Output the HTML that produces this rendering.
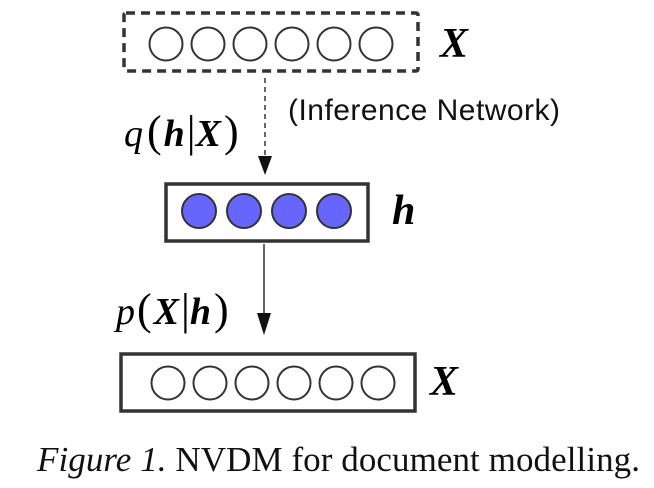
<!DOCTYPE html>
<html><head><style>body{margin:0;background:#fff}</style></head><body>
<svg width="654" height="483" xmlns="http://www.w3.org/2000/svg">
<rect x="124" y="13" width="294" height="58" fill="none" stroke="#333" stroke-width="3.5" stroke-dasharray="9,6" rx="2"/>
<g fill="none" stroke="#333" stroke-width="2">
<circle cx="166" cy="44" r="16.5"/><circle cx="208" cy="44" r="16.5"/><circle cx="250" cy="44" r="16.5"/><circle cx="292" cy="44" r="16.5"/><circle cx="334" cy="44" r="16.5"/><circle cx="376" cy="44" r="16.5"/>
</g>
<text x="440" y="57" font-family="Liberation Serif,serif" font-style="italic" font-weight="bold" font-size="42">X</text>
<line x1="265" y1="78" x2="265" y2="158" stroke="#333" stroke-width="1.5" stroke-dasharray="5,4"/>
<polygon points="258,156 272,156 265,175" fill="#111"/>
<text x="124" y="146" font-family="Liberation Serif,serif" font-style="italic" font-size="38">q<tspan font-style="normal" dx="4" font-size="44">(</tspan><tspan font-weight="bold" dx="2">h</tspan><tspan font-style="normal" dx="2" font-size="44">|</tspan><tspan font-weight="bold">X</tspan><tspan font-style="normal" dx="3" font-size="44">)</tspan></text>
<text x="288" y="120" font-family="Liberation Sans,sans-serif" font-size="30" fill="#111" textLength="272">(Inference Network)</text>
<rect x="166" y="184" width="202" height="57" fill="none" stroke="#333" stroke-width="3.5"/>
<g fill="#6666ff" stroke="#333" stroke-width="2">
<circle cx="199" cy="211" r="17"/><circle cx="244" cy="211" r="17"/><circle cx="289" cy="211" r="17"/><circle cx="334" cy="211" r="17"/>
</g>
<text x="392" y="224" font-family="Liberation Serif,serif" font-style="italic" font-weight="bold" font-size="42">h</text>
<line x1="264" y1="244" x2="264" y2="315" stroke="#333" stroke-width="1.5"/>
<polygon points="257,313 271,313 264,335" fill="#111"/>
<text x="116" y="324" font-family="Liberation Serif,serif" font-style="italic" font-size="38">p<tspan font-style="normal" dx="2" font-size="44">(</tspan><tspan font-weight="bold" dx="2">X</tspan><tspan font-style="normal" dx="2" font-size="44">|</tspan><tspan font-weight="bold">h</tspan><tspan font-style="normal" dx="3" font-size="44">)</tspan></text>
<rect x="121" y="354" width="294" height="57" fill="none" stroke="#333" stroke-width="3.5"/>
<g fill="none" stroke="#333" stroke-width="2">
<circle cx="168" cy="383" r="16.5"/><circle cx="210" cy="383" r="16.5"/><circle cx="252" cy="383" r="16.5"/><circle cx="294" cy="383" r="16.5"/><circle cx="336" cy="383" r="16.5"/><circle cx="378" cy="383" r="16.5"/>
</g>
<text x="430" y="395" font-family="Liberation Serif,serif" font-style="italic" font-weight="bold" font-size="42">X</text>
<text x="37" y="471" font-family="Liberation Serif,serif" font-size="35" fill="#111" textLength="603"><tspan font-style="italic">Figure 1.</tspan> NVDM for document modelling.</text>
</svg>
</body></html>
